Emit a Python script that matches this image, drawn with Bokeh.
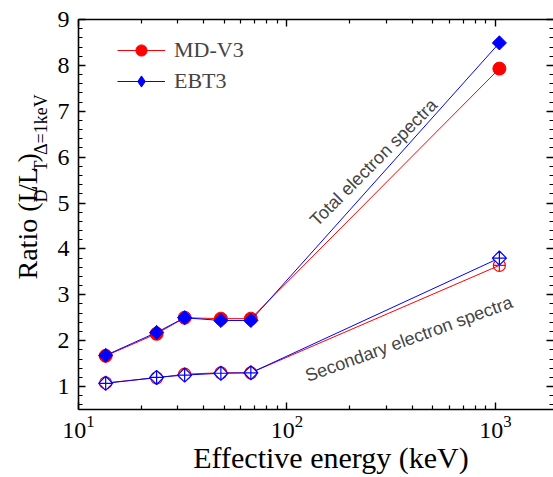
import math
from bokeh.plotting import figure
from bokeh.layouts import row
from bokeh.core.properties import value
from bokeh.models import (LogAxis, LinearAxis, FixedTicker, Label, Legend,
                          LegendItem, SingleIntervalTicker)
from bokeh.embed import file_html
from bokeh.resources import INLINE

# ---------------- data ----------------
energy = [13.5, 23.7, 32.3, 48.2, 67.1, 1045]          # keV
total_mdv3 = [1.67, 2.15, 2.50, 2.48, 2.48, 7.93]
total_ebt3 = [1.68, 2.18, 2.50, 2.44, 2.44, 8.49]
sec_mdv3 = [1.08, 1.19, 1.27, 1.30, 1.30, 3.64]
sec_ebt3 = [1.07, 1.20, 1.25, 1.29, 1.30, 3.80]

x_major = [10, 100, 1000]
x_minor = [20, 30, 40, 50, 60, 70, 80, 90, 200, 300, 400, 500, 600, 700, 800, 900]
series_names = ["MD-V3", "EBT3"]
x_title = "Effective energy (keV)"

SERIF = "Liberation Serif"
SANS = "Liberation Sans"

LEFT_W = 50
X0, X1, Y0, Y1 = 10, 1900, 0.5, 9
p = figure(width=553 - LEFT_W, height=477, x_axis_type="log", x_range=(X0, X1),
           y_range=(Y0, Y1), output_backend="svg", toolbar_location=None,
           min_border_left=78 - LEFT_W, min_border_right=0, min_border_top=19,
           min_border_bottom=68)
p.outline_line_color = None
p.xgrid.visible = False
p.ygrid.visible = False
p.background_fill_color = "white"
p.border_fill_color = "white"

bottom = p.below[0]
left = p.left[0]
bottom.ticker = FixedTicker(ticks=x_major, minor_ticks=x_minor)
left.ticker = SingleIntervalTicker(interval=1, num_minor_ticks=5)

top = LogAxis(ticker=FixedTicker(ticks=x_major, minor_ticks=x_minor))
right = LinearAxis(ticker=SingleIntervalTicker(interval=1, num_minor_ticks=5))
p.add_layout(top, "above")
p.add_layout(right, "right")

for ax in [bottom, left, top, right]:
    ax.axis_line_width = 1.6
    ax.axis_line_color = "black"
    ax.major_tick_in = 7
    ax.major_tick_out = 0
    ax.minor_tick_in = 4
    ax.minor_tick_out = 0
    ax.major_tick_line_width = 1.4
    ax.minor_tick_line_width = 1.2
    ax.major_label_text_font = SERIF
    ax.major_label_text_font_size = "24px"
    ax.major_label_text_color = "black"

for ax in [top, right]:
    ax.major_label_text_font_size = "1px"
    ax.major_label_text_color = None
    ax.major_label_standoff = 0
right.axis_line_color = None

left.major_label_standoff = 9
bottom.major_label_standoff = 6
# the reference title sits ~16 px right of the frame centre: pad with no-break spaces
bottom.axis_label = "\u00a0" * 4 + x_title
bottom.axis_label_text_font = SERIF
bottom.axis_label_text_font_size = "30px"
bottom.axis_label_text_font_style = "normal"
bottom.axis_label_text_color = "black"
bottom.axis_label_standoff = 0

# ---------------- glyphs ----------------
RED, BLUE = "#ff0000", "#0000ff"
l1 = p.line(energy, total_mdv3, line_color=RED, line_width=1)
s1 = p.scatter(energy, total_mdv3, marker="circle", size=13, fill_color=RED, line_color=RED)
p.line(energy, sec_mdv3, line_color=RED, line_width=1)
p.scatter(energy, sec_mdv3, marker="circle_cross", size=12, fill_color=None,
          line_color=RED, line_width=1.2)
l2 = p.line(energy, total_ebt3, line_color=BLUE, line_width=1)
s2 = p.scatter(energy, total_ebt3, marker="square", angle=math.pi / 4, size=10,
               fill_color=BLUE, line_color=BLUE)
p.line(energy, sec_ebt3, line_color=BLUE, line_width=1)
p.scatter(energy, sec_ebt3, marker="square_x", angle=math.pi / 4, size=10,
          fill_color="white", line_color=BLUE, line_width=1.2)
# legend-only diamond (legend glyphs are drawn unrotated); hidden in the plot
s2_leg = p.scatter(energy, total_ebt3, marker="diamond", size=14,
                   fill_color=BLUE, line_color=BLUE, visible=False)

legend = Legend(items=[LegendItem(label=series_names[0], renderers=[l1, s1]),
                       LegendItem(label=series_names[1], renderers=[l2, s2_leg])],
                location=(39, 314), padding=0, margin=0, spacing=3,
                glyph_width=48, glyph_height=28, label_height=26,
                label_standoff=9, label_text_font=SERIF,
                label_text_font_size="22px", border_line_color=None,
                background_fill_alpha=0, click_policy="none")
p.add_layout(legend)

# ---------------- annotations ----------------
p.add_layout(Label(x=133.4, y=4.565, text="Total electron spectra",
                   angle=math.radians(45), text_font=SANS, text_font_size="18px",
                   text_baseline="alphabetic", text_align="left"))
p.add_layout(Label(x=123.4, y=1.22, text="Secondary electron spectra",
                   angle=math.radians(20), text_font=SANS, text_font_size="18px",
                   text_baseline="alphabetic", text_align="left"))

# ---------------- y-axis title (with subscripts) in a narrow strip ----------------
py = figure(width=LEFT_W, height=477, x_range=(0, LEFT_W), y_range=(477, 0),
            output_backend="svg", toolbar_location=None, min_border=0,
            x_axis_location=None, y_axis_location=None)
py.outline_line_color = None
py.xgrid.visible = False
py.ygrid.visible = False
py.background_fill_color = "white"
py.border_fill_color = "white"

W = {"R": 667, "a": 444, "t": 278, "i": 278, "o": 500, " ": 250, "(": 333,
     "L": 611, "/": 278, ")": 333, "D": 722, "T": 611, "Δ": 612, "=": 564,
     "1": 500, "k": 500, "e": 444, "V": 722}
MAIN, SUB = 28, 18
pieces = [("Ratio (L", False), ("D", True), ("/L", False), ("T", True),
          (")", False), ("Δ=1keV", True)]
main_x, main_y, main_t = [], [], []
sub_x, sub_y, sub_t = [], [], []
cy = 318.0
for txt, is_sub in pieces:
    if is_sub:
        sub_x.append(40); sub_y.append(cy); sub_t.append(txt)
        cy -= sum(W[c] for c in txt) * SUB / 1000.0
    else:
        main_x.append(27); main_y.append(cy); main_t.append(txt)
        cy -= sum(W[c] for c in txt) * MAIN / 1000.0

py.text(x=main_x, y=main_y, text=main_t, angle=math.pi / 2,
        text_font=value(SERIF), text_font_size=value(f"{MAIN}px"),
        text_color="black", text_baseline="alphabetic", text_align="left")
py.text(x=sub_x, y=sub_y, text=sub_t, angle=math.pi / 2,
        text_font=value(SERIF), text_font_size=value(f"{SUB}px"),
        text_color="black", text_baseline="alphabetic", text_align="left")

layout = row(py, p, spacing=0)
open("out.html", "w").write(file_html(layout, INLINE))
